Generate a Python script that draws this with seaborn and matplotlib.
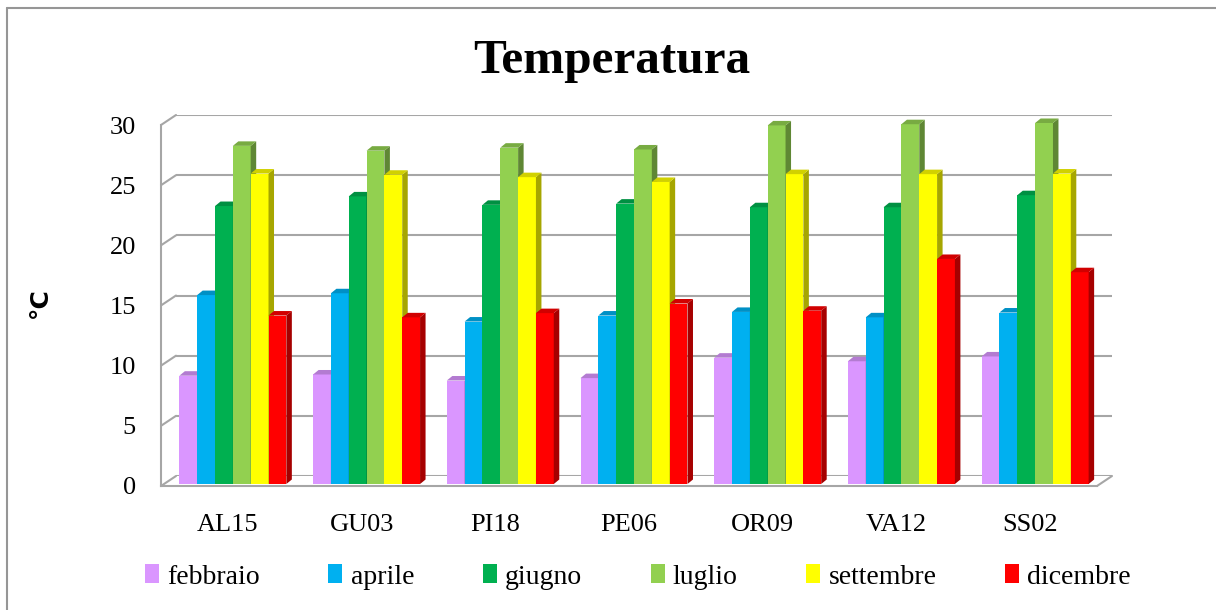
import matplotlib
matplotlib.use("Agg")
import matplotlib.pyplot as plt
import matplotlib.transforms as mtransforms
import matplotlib.colors as mcolors
from matplotlib.patches import Polygon, Patch
from matplotlib.lines import Line2D
import pandas as pd
import seaborn as sns

# dati
stazioni = ["AL15", "GU03", "PI18", "PE06", "OR09", "VA12", "SS02"]
mesi = ["febbraio", "aprile", "giugno", "luglio", "settembre", "dicembre"]
febbraio = [9.0, 9.1, 8.6, 8.8, 10.5, 10.2, 10.6]
aprile = [15.7, 15.85, 13.5, 14.0, 14.3, 13.85, 14.25]
giugno = [23.1, 23.9, 23.2, 23.3, 23.0, 23.0, 24.0]
luglio = [28.1, 27.7, 27.95, 27.8, 29.8, 29.9, 30.0]
settembre = [25.8, 25.7, 25.5, 25.1, 25.75, 25.75, 25.8]
dicembre = [14.0, 13.85, 14.2, 15.0, 14.4, 18.7, 17.6]
colori = ["#DA96FF", "#00B0F0", "#00B050", "#92D050", "#FFFF00", "#FF0000"]
y_ticks = [0, 5, 10, 15, 20, 25, 30]

serie = [febbraio, aprile, giugno, luglio, settembre, dicembre]
df = pd.DataFrame({
    "stazione": stazioni * len(mesi),
    "mese": [m for m in mesi for _ in stazioni],
    "temp": [v for s in serie for v in s],
})

sns.set_style("white")
plt.rcParams["font.family"] = ["Liberation Serif", "DejaVu Serif"]
plt.rcParams["text.color"] = "black"

W, H = 1216, 610
fig = plt.figure(figsize=(W / 100, H / 100), dpi=100)


def px_rect(l, t, r, b):
    return [l / W, 1 - b / H, (r - l) / W, (b - t) / H]


grigio = "#A6A6A6"

# parete di fondo (griglia)
ax_back = fig.add_axes(px_rect(176, 115, 1112, 476))
ax_back.set_xlim(0, 1)
ax_back.set_ylim(0, 30)
ax_back.set_yticks(y_ticks)
ax_back.set_xticks([])
ax_back.tick_params(left=False, labelleft=False)
ax_back.grid(axis="y", color=grigio, linewidth=1.5)
for s in ax_back.spines.values():
    s.set_visible(False)
ax_back.patch.set_alpha(0)

# assi anteriori con le barre
ax = fig.add_axes(px_rect(161, 125, 1097, 486))
ax.patch.set_alpha(0)
sns.barplot(data=df, x="stazione", y="temp", hue="mese", palette=colori,
            saturation=1, width=0.8, linewidth=0, legend=False, ax=ax)
ax.set_xlim(-0.5, 6.5)
ax.set_ylim(0, 30)
ax.set_yticks(y_ticks)
ax.set_xlabel("")
ax.set_ylabel("")
for s in ["top", "right"]:
    ax.spines[s].set_visible(False)
for s in ["left", "bottom"]:
    ax.spines[s].set_color(grigio)
    ax.spines[s].set_linewidth(1.5)
ax.set_xticks(range(len(stazioni)), stazioni)
ax.set_xticks([i - 0.5 for i in range(len(stazioni) + 1)], minor=True)
ax.tick_params(axis="x", which="major", length=0, pad=20, labelsize=19,
               labelcolor="black")
ax.tick_params(axis="x", which="minor", length=6, width=1.5, color=grigio,
               direction="out")
ax.tick_params(axis="y", length=6, width=1.5, color=grigio, pad=12,
               labelsize=19, direction="out", labelcolor="black")

# effetto 3D: spostamento e facce laterali/superiori
dx, dy = 5.5, 4.5
off = mtransforms.ScaledTranslation(5 / 100, 2 / 100, fig.dpi_scale_trans)
n = len(stazioni)
ident = mtransforms.IdentityTransform()
bars = list(ax.patches)
for i, p in enumerate(bars):
    k = i // n
    z = 3 + k * 0.1
    p.set_transform(ax.transData + off)
    p.set_zorder(z)
    p.set_clip_on(False)
    v = p.get_verts()
    x0, x1 = v[:, 0].min(), v[:, 0].max()
    y0, y1 = v[:, 1].min(), v[:, 1].max()
    rgb = mcolors.to_rgb(colori[k])
    lato = tuple(c * 0.65 for c in rgb)
    sopra = tuple(c * 0.82 for c in rgb)
    ax.add_patch(Polygon([(x1, y0), (x1 + dx, y0 + dy), (x1 + dx, y1 + dy), (x1, y1)],
                         closed=True, facecolor=lato, edgecolor="none",
                         transform=ident, zorder=z, clip_on=False))
    ax.add_patch(Polygon([(x0, y1), (x0 + dx, y1 + dy), (x1 + dx, y1 + dy), (x1, y1)],
                         closed=True, facecolor=sopra, edgecolor="none",
                         transform=ident, zorder=z, clip_on=False))

# diagonali della parete laterale e del pavimento
for t in y_ticks:
    fx, fy = ax.transData.transform((-0.5, t))
    fig.add_artist(Line2D([fx, fx + 15], [fy, fy + 10], color=grigio,
                          linewidth=1.5, transform=ident))
fx, fy = ax.transData.transform((6.5, 0))
fig.add_artist(Line2D([fx, fx + 15], [fy, fy + 10], color=grigio,
                      linewidth=1.5, transform=ident))

# titolo ed etichetta asse y
fig.text(612 / W, 1 - 73 / H, "Temperatura", ha="center", va="baseline",
         fontsize=35.5, fontweight="bold")
fig.text(40 / W, 1 - 303 / H, "°C", ha="center", va="center", rotation=90,
         fontsize=18, fontweight="bold", family=["DejaVu Sans"])

# legenda
handles = [Patch(facecolor=c, edgecolor="none", label=m) for m, c in zip(mesi, colori)]
fig.legend(handles=handles, loc="center", bbox_to_anchor=(638 / W, 1 - 577 / H),
           ncol=6, frameon=False, fontsize=20, handlelength=0.5,
           handleheight=0.65, handletextpad=0.3, columnspacing=2.47)

# bordo del grafico
bordo = "#969696"
fig.add_artist(Line2D([7 / W, 1], [1 - 8 / H, 1 - 8 / H], color=bordo,
                      linewidth=1.5, transform=fig.transFigure))
fig.add_artist(Line2D([7 / W, 7 / W], [1 - 8 / H, 0], color=bordo,
                      linewidth=1.5, transform=fig.transFigure))

fig.savefig("out.png", dpi=100)
